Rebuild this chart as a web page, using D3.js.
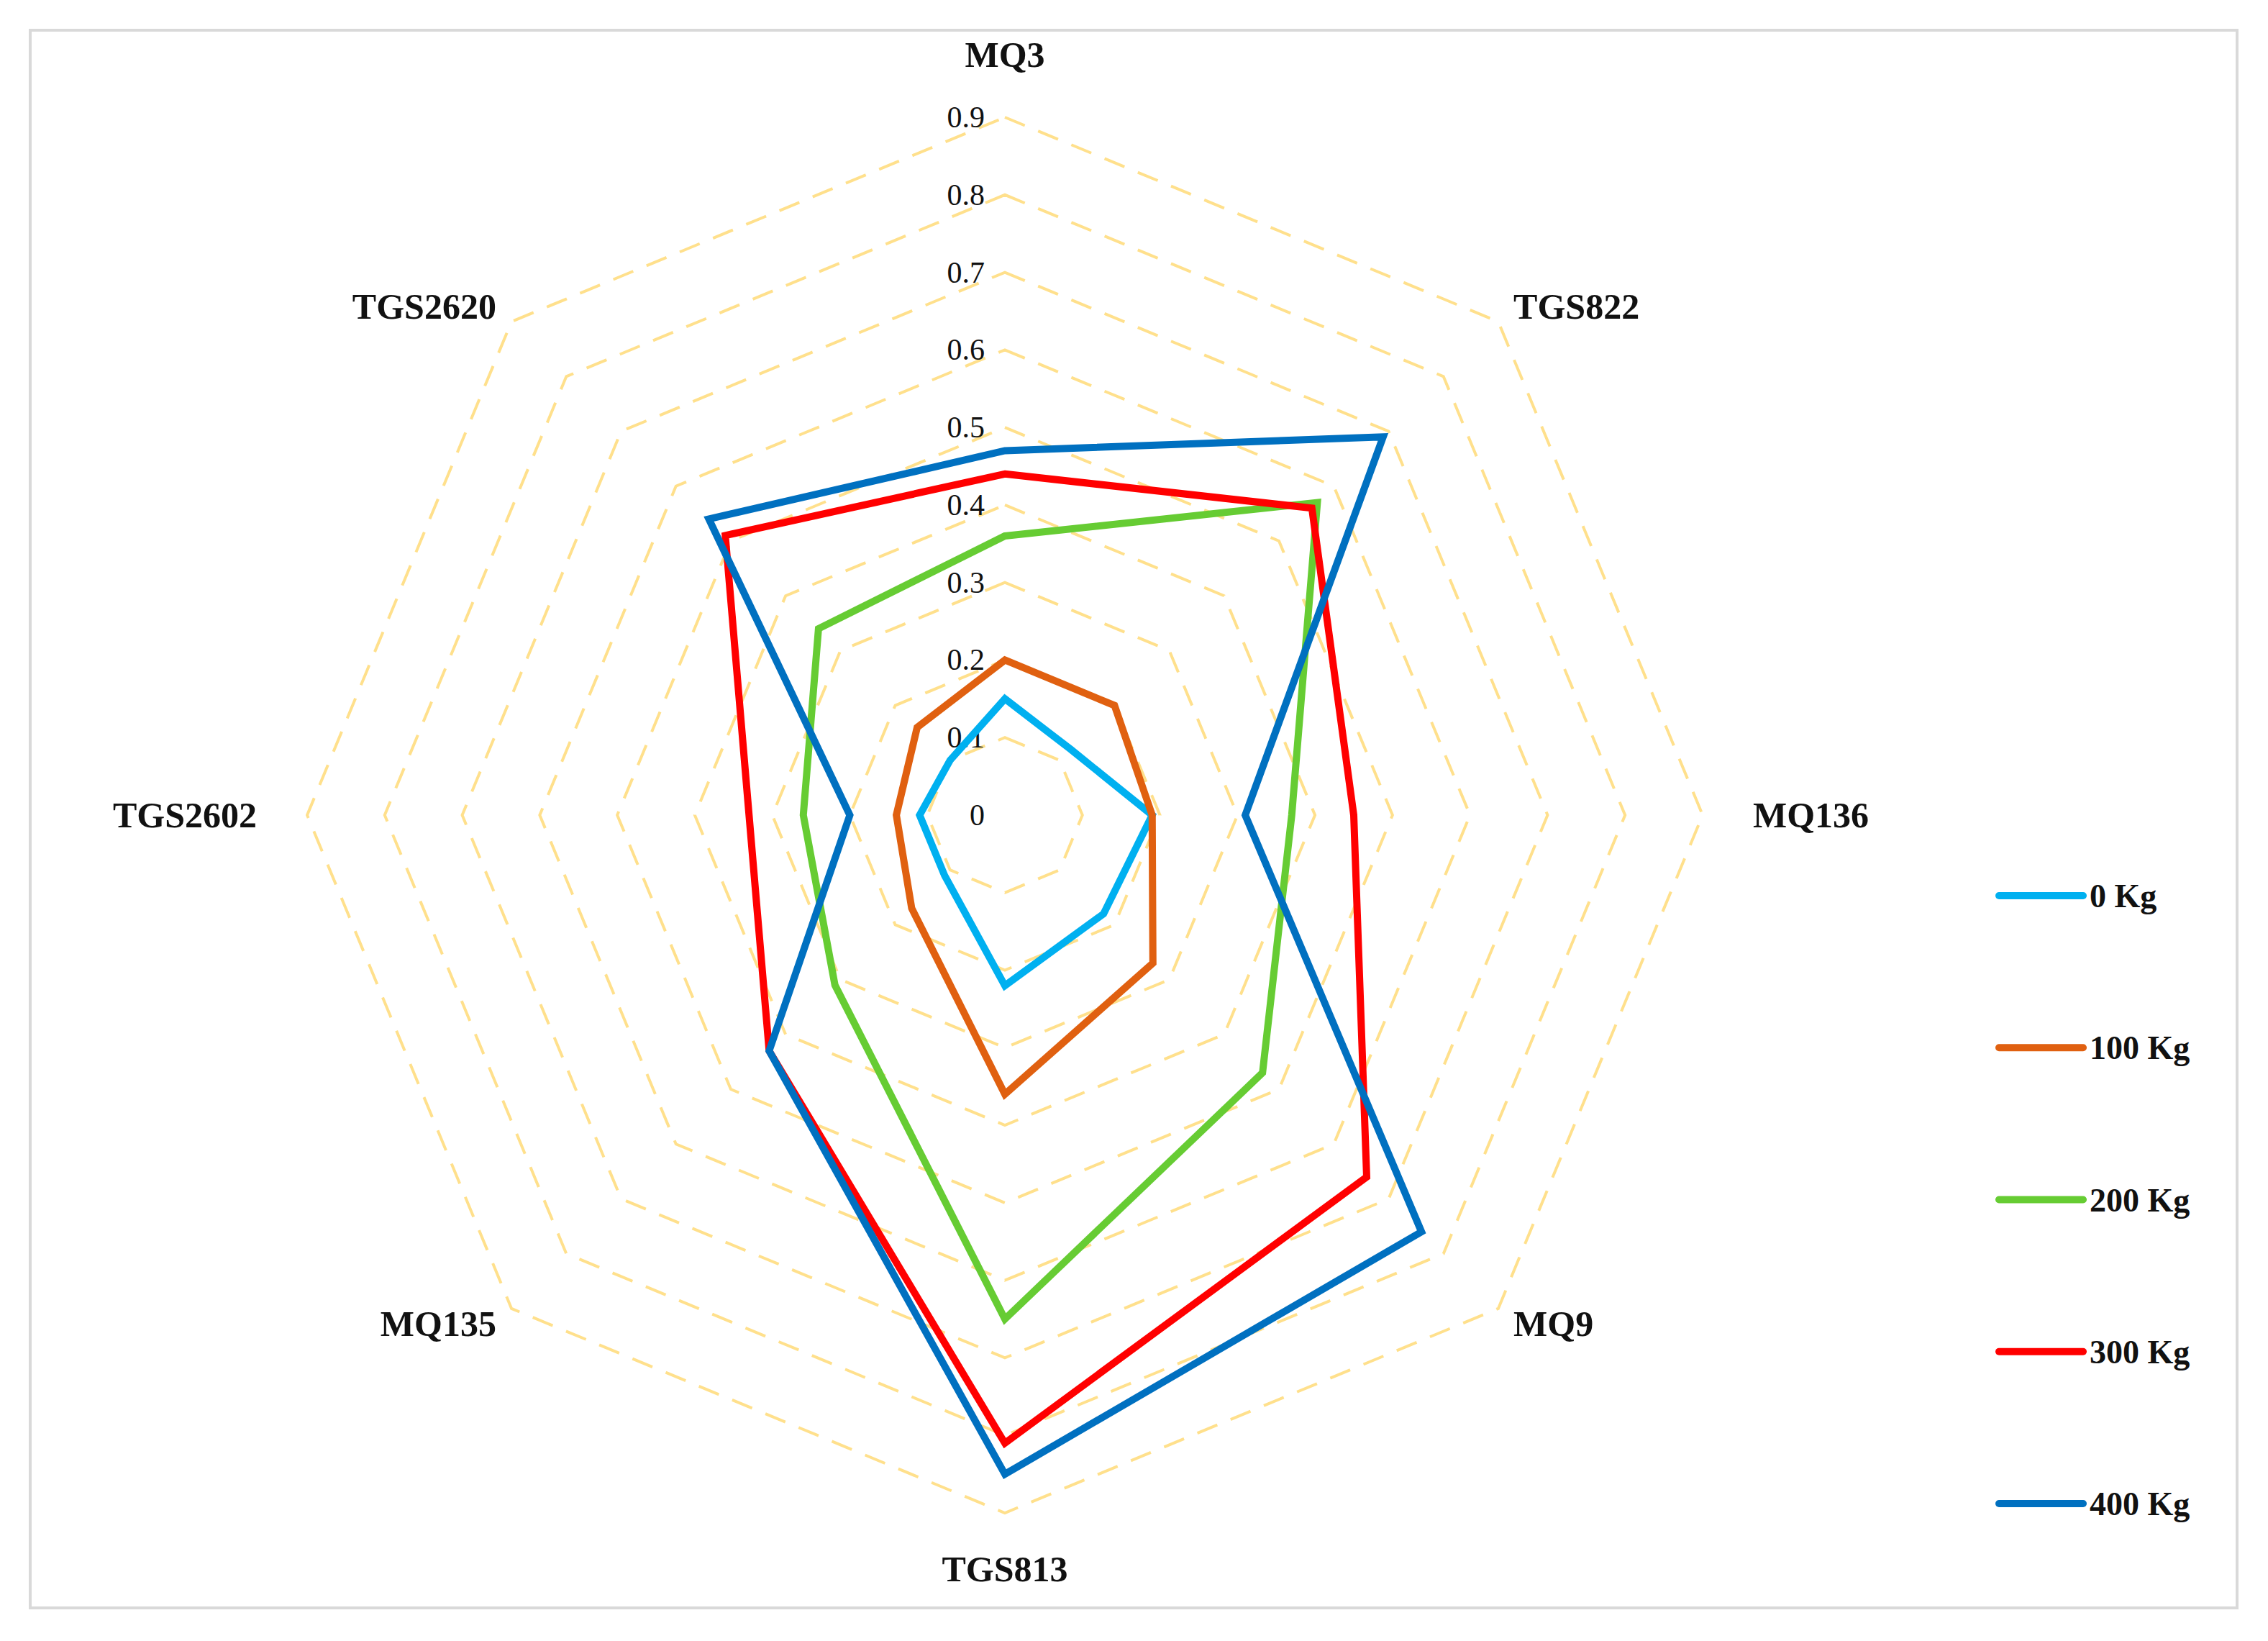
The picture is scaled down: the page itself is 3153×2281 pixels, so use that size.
<!DOCTYPE html>
<html>
<head>
<meta charset="utf-8">
<script src="https://cdn.jsdelivr.net/npm/d3@7"></script>
<style>
  body { margin: 0; background: #fff; }
  text { font-family: "Liberation Serif", "Times New Roman", serif; fill: #111; }
  .cat { font-weight: bold; font-size: 50px; }
  .tick { font-size: 42px; }
  .leg { font-weight: bold; font-size: 46px; }
</style>
</head>
<body>
<svg width="3153" height="2281"></svg>
<script>
// sensors, clockwise from top
var sensors = ["MQ3", "TGS822", "MQ136", "MQ9", "TGS813", "MQ135", "TGS2602", "TGS2620"];
var seriesNames = ["0 Kg", "100 Kg", "200 Kg", "300 Kg", "400 Kg"];
var seriesColors = ["#00B0F0", "#E06010", "#66CC33", "#FF0000", "#0070C0"];
var kg0   = [0.15, 0.12, 0.19, 0.18, 0.22, 0.11, 0.11, 0.10];
var kg100 = [0.20, 0.20, 0.19, 0.27, 0.36, 0.17, 0.14, 0.16];
var kg200 = [0.36, 0.57, 0.37, 0.47, 0.65, 0.31, 0.26, 0.34];
var kg300 = [0.44, 0.56, 0.45, 0.66, 0.81, 0.43, 0.33, 0.51];
var kg400 = [0.47, 0.69, 0.31, 0.76, 0.85, 0.43, 0.20, 0.54];
var ticks = [0, 0.1, 0.2, 0.3, 0.4, 0.5, 0.6, 0.7, 0.8, 0.9];

var allSeries = [kg0, kg100, kg200, kg300, kg400];

const svg = d3.select("svg");
const cx = 1397, cy = 1133;

svg.append("rect")
  .attr("x", 42).attr("y", 42).attr("width", 3068).attr("height", 2193)
  .attr("fill", "none").attr("stroke", "#d9d9d9").attr("stroke-width", 4);

const r = d3.scaleLinear().domain([0, 0.9]).range([0, 970]);
const angle = (i) => i * 2 * Math.PI / sensors.length;

const chart = svg.append("g").attr("transform", `translate(${cx},${cy})`);

const radial = d3.lineRadial()
  .angle((d, i) => angle(i))
  .radius((d) => r(d))
  .curve(d3.curveLinearClosed);

// grid rings
chart.selectAll(".ring")
  .data(ticks.slice(1))
  .enter()
  .append("path")
  .attr("d", (t) => radial(sensors.map(() => t)))
  .attr("fill", "none")
  .attr("stroke", "#FFE08C")
  .attr("stroke-width", 4)
  .attr("stroke-dasharray", "30,20");

// tick labels
chart.selectAll(".tick")
  .data(ticks)
  .enter()
  .append("text")
  .attr("class", "tick")
  .attr("x", -28)
  .attr("y", (t) => -r(t) + 14)
  .attr("text-anchor", "end")
  .text((t) => t === 0 ? "0" : t.toFixed(1));

// series
chart.selectAll(".series")
  .data(allSeries)
  .enter()
  .append("path")
  .attr("d", (s) => radial(s))
  .attr("fill", "none")
  .attr("stroke", (s, i) => seriesColors[i])
  .attr("stroke-width", 10)
  .attr("stroke-linejoin", "miter");

// category labels
chart.selectAll(".cat")
  .data(sensors)
  .enter()
  .append("text")
  .attr("class", "cat")
  .each(function (d, i) {
    const a = angle(i);
    const sx = Math.sin(a), sy = -Math.cos(a);
    const rad = 1040;
    let x = sx * rad, y = sy * rad + 17;
    let anchor = "middle";
    if (sx > 0.1) anchor = "start";
    if (sx < -0.1) anchor = "end";
    if (Math.abs(sx) > 0.1 && Math.abs(sy) > 0.1) { x = sx * 1000; y = sy * 1000 + 17; }
    if (i === 0) y = -1040;
    if (i === 4) y = 1065;
    d3.select(this).attr("x", x).attr("y", y).attr("text-anchor", anchor).text(d);
  });

// legend
const leg = svg.append("g");
const legY = d3.scalePoint().domain(seriesNames).range([1245, 2090]);
seriesNames.forEach((name, i) => {
  leg.append("line")
    .attr("x1", 2779).attr("x2", 2896)
    .attr("y1", legY(name)).attr("y2", legY(name))
    .attr("stroke", seriesColors[i]).attr("stroke-width", 10)
    .attr("stroke-linecap", "round");
  leg.append("text")
    .attr("class", "leg")
    .attr("x", 2905).attr("y", legY(name) + 16)
    .text(name);
});
</script>
</body>
</html>
